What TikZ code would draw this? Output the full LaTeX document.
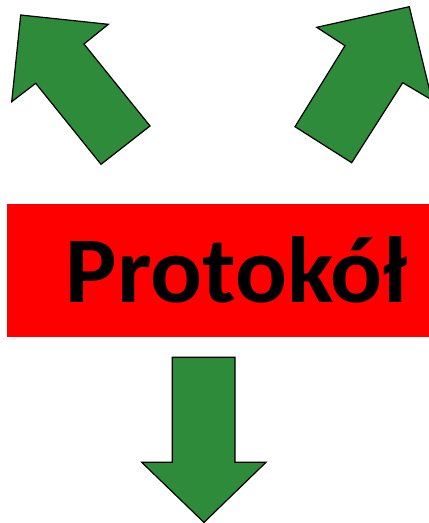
\documentclass[tikz,border=0pt]{standalone}
\usepackage{fontspec}
\newfontfamily\calib{Carlito}
\definecolor{arrowgreen}{RGB}{46,139,58}
\definecolor{boxred}{RGB}{255,0,0}
\tikzset{
  arrowshape/.style={fill=arrowgreen, draw=black, line width=1.2pt, line join=miter},
  boxstyle/.style={fill=boxred, draw=none},
  labelstyle/.style={font=\calib\bfseries\fontsize{94}{100}\selectfont, inner sep=0pt, outer sep=0pt, xscale=1.03}
}
\begin{document}
\begin{tikzpicture}[x=1pt,y=-1pt]
\useasboundingbox (0,0) rectangle (429,523);
% left arrow
\draw[arrowshape] (20.7,15) -- (108.3,24.3) -- (84,44) -- (150,126) -- (101,164.3) -- (35.7,83.3) -- (11.7,101.7) -- cycle;
% right arrow
\draw[arrowshape] (409.3,6.7) -- (316.7,27.3) -- (345,45.7) -- (295,126.7) -- (351.7,162.7) -- (402.7,82.7) -- (432,100) -- cycle;
% box
\fill[boxstyle] (7,204) rectangle (432,337.3);
\node[labelstyle, anchor=base west] (label) at (65.5,302.7) {Protokół};
% bottom arrow
\draw[arrowshape] (172.3,357.3) -- (235,357.3) -- (235,462.3) -- (266,462.3) -- (204,522.4) -- (141.7,462.3) -- (172.3,462.3) -- cycle;
\end{tikzpicture}
\end{document}
